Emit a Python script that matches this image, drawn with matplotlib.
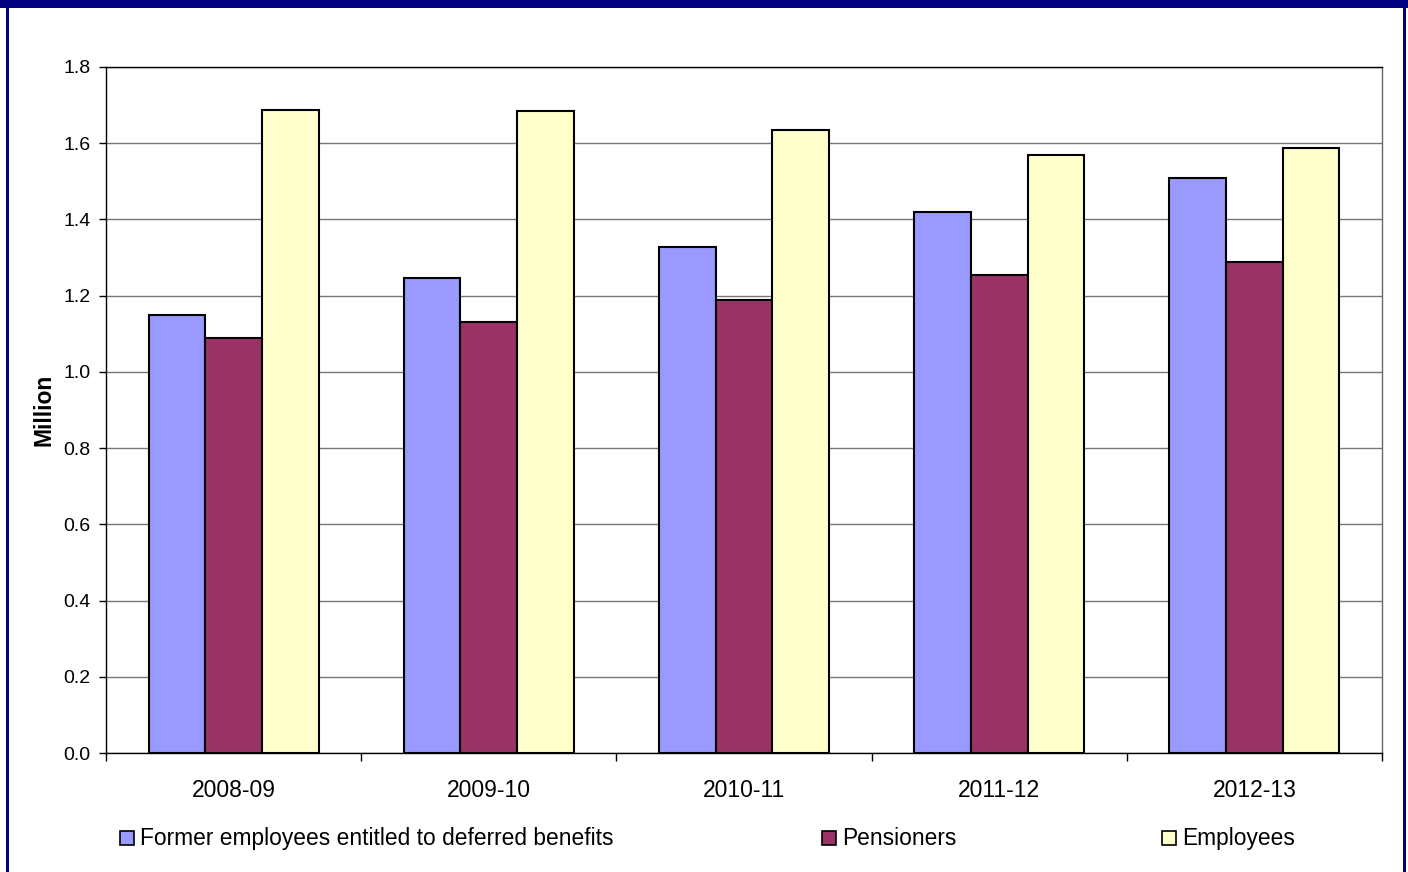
import matplotlib
matplotlib.use("Agg")
import matplotlib.pyplot as plt
from matplotlib.patches import Rectangle
import numpy as np

plt.rcParams['font.family'] = ['Liberation Sans', 'DejaVu Sans']

years = ["2008-09", "2009-10", "2010-11", "2011-12", "2012-13"]
deferred = [1.15, 1.247, 1.328, 1.42, 1.509]
pensioners = [1.089, 1.131, 1.189, 1.255, 1.289]
employees = [1.688, 1.685, 1.635, 1.57, 1.588]

series_names = ["Former employees entitled to deferred benefits", "Pensioners", "Employees"]
series_colors = ["#9999FF", "#993366", "#FFFFCC"]

W, H = 1408, 872
fig = plt.figure(figsize=(W / 100, H / 100), dpi=100)
ax = fig.add_axes([106 / W, 1 - 753 / H, (1382 - 106) / W, (753 - 67) / H])

x = np.arange(len(years))
bw = 0.222
for i, (vals, col) in enumerate(zip([deferred, pensioners, employees], series_colors)):
    ax.bar(x + (i - 1) * bw, vals, width=bw, color=col, edgecolor="black",
           linewidth=1.5, zorder=3)

ax.set_xlim(-0.5, len(years) - 0.5)
ax.set_ylim(0, 1.8)
ax.set_yticks(np.arange(0, 1.81, 0.2))
ax.set_yticklabels([f"{v:.1f}" for v in np.arange(0, 1.81, 0.2)], fontsize=14)
ax.yaxis.grid(True, color="#777777", linewidth=1, zorder=0)
ax.set_xticks(x)
ax.set_xticklabels(years, fontsize=16.5)
ax.tick_params(axis="x", length=0, pad=19)
ax.set_xticks(np.arange(-0.5, len(years)), minor=True)
ax.tick_params(axis="x", which="minor", length=6, width=1, color="black", direction="out")
ax.tick_params(axis="y", length=5, width=1, direction="out", pad=6)
for s in ax.spines.values():
    s.set_linewidth(1)
    s.set_color("black")
ax.spines["right"].set_color("#666666")

ax.set_ylabel("Million", fontsize=16.5, fontweight="bold", labelpad=6)

# Legend entries spread across the bottom
leg_y = 1 - 838 / H
for name, col, xs in zip(series_names, series_colors, [120, 822, 1162]):
    fig.patches.append(Rectangle((xs / W, leg_y - 7 / H), 14 / W, 14 / H,
                                 transform=fig.transFigure, facecolor=col,
                                 edgecolor="black", linewidth=1.2))
    fig.text((xs + 20) / W, leg_y, name, fontsize=16.4, va="center", ha="left")

# Navy frame around the figure
navy = "#000080"
fig.patches.append(Rectangle((0, 1 - 8 / H), 1, 8 / H, transform=fig.transFigure,
                             facecolor=navy, edgecolor="none"))
fig.patches.append(Rectangle((6 / W, 0), 2.5 / W, 1, transform=fig.transFigure,
                             facecolor=navy, edgecolor="none"))
fig.patches.append(Rectangle((1403 / W, 0), 3 / W, 1, transform=fig.transFigure,
                             facecolor=navy, edgecolor="none"))

fig.savefig("out.png", dpi=100)
